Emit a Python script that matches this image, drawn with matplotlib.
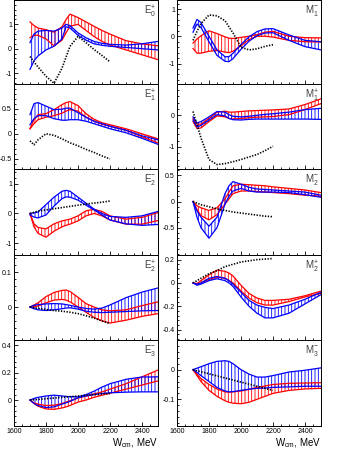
import matplotlib
matplotlib.use('Agg')
import matplotlib.pyplot as plt
from matplotlib.ticker import AutoMinorLocator, MultipleLocator, FuncFormatter

plt.rcParams['font.family'] = ['Liberation Sans', 'DejaVu Sans']
plt.rcParams['mathtext.default'] = 'regular'
plt.rcParams['axes.unicode_minus'] = False
plt.rcParams['hatch.linewidth'] = 0.6

# energy grid of the bands and of the dotted curve (MeV)
W = [1700, 1725, 1750, 1800, 1850, 1900, 1925, 1950, 2000, 2050, 2100, 2150, 2200, 2300, 2400, 2500]
WD = [1700, 1725, 1750, 1800, 1850, 1900, 1950, 2000, 2050, 2100, 2150, 2200]

# E0+
e0p_red_hi = [1.10, 0.95, 0.85, 0.78, 0.68, 0.90, 1.20, 1.42, 1.28, 1.10, 0.92, 0.75, 0.60, 0.33, 0.20, 0.12]
e0p_red_lo = [0.45, 0.55, 0.55, 0.40, 0.12, 0.35, 0.65, 0.92, 1.00, 0.75, 0.50, 0.30, 0.15, -0.05, -0.25, -0.45]
e0p_blue_hi = [0.25, 0.60, 0.72, 0.75, 0.72, 0.85, 1.00, 0.95, 0.65, 0.45, 0.30, 0.22, 0.18, 0.15, 0.20, 0.30]
e0p_blue_lo = [-0.85, -0.50, -0.30, -0.05, 0.10, 0.40, 0.90, 0.85, 0.55, 0.35, 0.20, 0.14, 0.10, 0.05, 0.00, -0.05]
e0p_dots = [-0.32, -0.55, -0.75, -1.13, -1.42, -0.80, 0.10, 0.50, 0.25, -0.03, -0.28, -0.54]

# M1-
m1m_red_hi = [-0.25, -0.10, 0.02, 0.20, 0.10, -0.02, -0.07, -0.08, -0.04, 0.00, 0.06, 0.15, 0.18, 0.00, -0.05, -0.06]
m1m_red_lo = [-0.45, -0.62, -0.62, -0.55, -0.52, -0.58, -0.60, -0.55, -0.35, -0.12, 0.00, 0.00, -0.03, -0.15, -0.20, -0.21]
m1m_blue_hi = [0.30, 0.62, 0.50, 0.00, -0.50, -0.75, -0.75, -0.62, -0.30, -0.02, 0.17, 0.27, 0.28, 0.05, -0.15, -0.20]
m1m_blue_lo = [0.15, 0.45, 0.32, -0.20, -0.70, -0.92, -0.93, -0.82, -0.48, -0.18, 0.02, 0.12, 0.13, -0.15, -0.38, -0.50]
m1m_dots = [-0.15, 0.18, 0.47, 0.78, 0.75, 0.57, 0.12, -0.40, -0.50, -0.46, -0.37, -0.31]

# E1+
e1p_red_hi = [0.10, 0.28, 0.38, 0.40, 0.48, 0.58, 0.62, 0.64, 0.56, 0.40, 0.29, 0.22, 0.18, 0.10, 0.00, -0.10]
e1p_red_lo = [0.10, 0.20, 0.28, 0.33, 0.36, 0.41, 0.45, 0.48, 0.45, 0.33, 0.25, 0.19, 0.15, 0.07, -0.06, -0.18]
e1p_blue_hi = [0.38, 0.60, 0.62, 0.55, 0.48, 0.49, 0.51, 0.51, 0.42, 0.33, 0.25, 0.20, 0.15, 0.07, -0.04, -0.12]
e1p_blue_lo = [0.18, 0.30, 0.36, 0.36, 0.30, 0.27, 0.27, 0.28, 0.28, 0.25, 0.20, 0.15, 0.10, 0.02, -0.09, -0.21]
e1p_dots = [-0.14, -0.22, -0.12, 0.00, -0.03, -0.10, -0.18, -0.24, -0.31, -0.37, -0.44, -0.50]

# M1+
m1p_red_hi = [-0.10, -0.28, -0.28, -0.10, 0.10, 0.13, 0.10, 0.10, 0.12, 0.14, 0.15, 0.16, 0.17, 0.20, 0.34, 0.52]
m1p_red_lo = [-0.20, -0.42, -0.40, -0.20, -0.02, -0.05, -0.10, -0.12, -0.10, -0.08, -0.06, -0.05, -0.04, 0.02, 0.18, 0.37]
m1p_blue_hi = [-0.05, -0.24, -0.20, -0.05, 0.12, 0.10, 0.02, -0.03, -0.05, -0.03, 0.00, 0.03, 0.05, 0.10, 0.18, 0.22]
m1p_blue_lo = [-0.15, -0.37, -0.32, -0.15, 0.02, -0.02, -0.10, -0.14, -0.15, -0.13, -0.12, -0.12, -0.12, -0.12, -0.12, -0.13]
m1p_dots = [0.12, -0.30, -0.72, -1.40, -1.56, -1.53, -1.47, -1.40, -1.32, -1.24, -1.12, -0.98]

# E2-
e2m_red_hi = [0.00, -0.35, -0.47, -0.52, -0.35, -0.25, -0.22, -0.19, -0.08, 0.09, 0.14, 0.07, -0.08, -0.19, -0.13, 0.03]
e2m_red_lo = [0.00, -0.45, -0.67, -0.80, -0.60, -0.45, -0.40, -0.36, -0.25, -0.08, 0.00, -0.08, -0.22, -0.36, -0.36, -0.24]
e2m_blue_hi = [0.00, 0.02, 0.05, 0.30, 0.55, 0.75, 0.78, 0.75, 0.55, 0.35, 0.15, 0.00, -0.10, -0.13, -0.08, 0.07]
e2m_blue_lo = [-0.05, -0.12, -0.15, -0.05, 0.25, 0.50, 0.56, 0.55, 0.45, 0.28, 0.12, -0.05, -0.22, -0.35, -0.40, -0.37]
e2m_dots = [0.00, 0.04, 0.08, 0.12, 0.16, 0.20, 0.24, 0.28, 0.32, 0.35, 0.38, 0.42]

# M2-
m2m_red_hi = [0.00, -0.08, -0.12, -0.17, -0.12, 0.05, 0.18, 0.30, 0.33, 0.32, 0.31, 0.30, 0.28, 0.25, 0.22, 0.17]
m2m_red_lo = [0.00, -0.15, -0.27, -0.35, -0.25, -0.05, 0.05, 0.15, 0.20, 0.20, 0.19, 0.18, 0.17, 0.15, 0.12, 0.10]
m2m_blue_hi = [0.00, -0.18, -0.30, -0.47, -0.30, 0.15, 0.30, 0.38, 0.33, 0.27, 0.24, 0.23, 0.22, 0.20, 0.18, 0.12]
m2m_blue_lo = [0.00, -0.30, -0.50, -0.70, -0.50, -0.05, 0.10, 0.20, 0.25, 0.20, 0.18, 0.18, 0.18, 0.17, 0.13, 0.08]
m2m_dots = [0.00, -0.03, -0.06, -0.10, -0.14, -0.17, -0.20, -0.22, -0.24, -0.26, -0.28, -0.29]

# E2+
e2p_red_hi = [0.0, 0.006, 0.012, 0.030, 0.042, 0.048, 0.049, 0.045, 0.028, 0.010, 0.000, -0.008, -0.011, -0.008, 0.004, 0.015]
e2p_red_lo = [0.0, 0.001, 0.003, 0.012, 0.020, 0.022, 0.020, 0.015, 0.000, -0.015, -0.030, -0.040, -0.046, -0.038, -0.027, -0.019]
e2p_blue_hi = [0.0, 0.005, 0.007, 0.009, 0.010, 0.009, 0.007, 0.005, 0.000, -0.004, -0.006, -0.003, 0.006, 0.027, 0.043, 0.055]
e2p_blue_lo = [0.0, -0.005, -0.008, -0.010, -0.008, -0.005, -0.003, -0.002, -0.006, -0.012, -0.015, -0.016, -0.015, -0.013, -0.011, -0.010]
e2p_dots = [0.0, -0.002, -0.004, -0.007, -0.010, -0.012, -0.015, -0.019, -0.025, -0.032, -0.040, -0.048]

# M2+
m2p_red_hi = [0.0, -0.005, 0.02, 0.07, 0.11, 0.10, 0.085, 0.06, -0.02, -0.09, -0.13, -0.15, -0.15, -0.14, -0.11, -0.07]
m2p_red_lo = [0.0, -0.01, 0.00, 0.03, 0.05, 0.04, 0.02, 0.00, -0.07, -0.13, -0.17, -0.19, -0.19, -0.16, -0.12, -0.09]
m2p_blue_hi = [0.0, -0.01, 0.00, 0.04, 0.055, 0.04, 0.02, -0.01, -0.08, -0.15, -0.19, -0.21, -0.22, -0.19, -0.14, -0.08]
m2p_blue_lo = [0.0, -0.02, -0.01, 0.02, 0.036, 0.02, 0.00, -0.03, -0.12, -0.20, -0.26, -0.30, -0.30, -0.26, -0.18, -0.10]
m2p_dots = [0.0, 0.02, 0.04, 0.08, 0.105, 0.14, 0.16, 0.18, 0.19, 0.20, 0.205, 0.21]

# E3-
e3m_red_hi = [0.0, -0.02, -0.03, -0.04, -0.038, -0.025, -0.015, -0.005, 0.015, 0.03, 0.045, 0.06, 0.08, 0.12, 0.17, 0.22]
e3m_red_lo = [0.0, -0.025, -0.045, -0.065, -0.068, -0.058, -0.05, -0.04, -0.015, 0.0, 0.02, 0.035, 0.05, 0.08, 0.11, 0.14]
e3m_blue_hi = [0.0, 0.012, 0.02, 0.03, 0.036, 0.03, 0.027, 0.025, 0.024, 0.04, 0.065, 0.095, 0.12, 0.152, 0.169, 0.17]
e3m_blue_lo = [0.0, -0.025, -0.04, -0.055, -0.05, -0.03, -0.02, -0.01, 0.017, 0.03, 0.04, 0.048, 0.053, 0.058, 0.06, 0.06]
e3m_dots = [0.0, 0.002, 0.005, 0.01, 0.015, 0.02, 0.025, 0.029, 0.035, 0.04, 0.045, 0.048]

# M3-
m3m_red_hi = [0.0, -0.015, -0.03, -0.05, -0.065, -0.075, -0.076, -0.075, -0.072, -0.066, -0.06, -0.055, -0.05, -0.046, -0.045, -0.044]
m3m_red_lo = [0.0, -0.02, -0.04, -0.07, -0.09, -0.105, -0.11, -0.113, -0.115, -0.11, -0.10, -0.09, -0.08, -0.07, -0.065, -0.063]
m3m_blue_hi = [0.0, 0.005, 0.01, 0.02, 0.028, 0.03, 0.028, 0.02, 0.0, -0.015, -0.025, -0.025, -0.02, -0.008, -0.002, 0.006]
m3m_blue_lo = [0.0, -0.01, -0.02, -0.04, -0.06, -0.072, -0.075, -0.074, -0.07, -0.066, -0.063, -0.062, -0.06, -0.058, -0.056, -0.056]
m3m_dots = [0.0, -0.004, -0.007, -0.014, -0.021, -0.028, -0.035, -0.042, -0.049, -0.056, -0.063, -0.07]


def draw_band(ax, lo, hi, color):
    ax.fill_between(W, lo, hi, facecolor='none', edgecolor=color, hatch='|||||', linewidth=0)
    ax.plot(W, lo, color=color, lw=0.9)
    ax.plot(W, hi, color=color, lw=0.9)


def draw_panel(ax, name, red, blue, dots, ylim, yticks, bottom):
    draw_band(ax, red[0], red[1], 'red')
    draw_band(ax, blue[0], blue[1], 'blue')
    ax.plot(WD, dots, color='black', lw=1.2, linestyle=(0, (0.8, 0.9)))
    ax.set_xlim(1600, 2500)
    ax.set_ylim(*ylim)
    ax.set_yticks(yticks)
    ax.yaxis.set_major_formatter(FuncFormatter(lambda v, p: '%g' % v))
    ax.yaxis.set_minor_locator(AutoMinorLocator(5))
    ax.xaxis.set_major_locator(MultipleLocator(200))
    ax.xaxis.set_minor_locator(MultipleLocator(50))
    ax.tick_params(which='both', direction='in', labelsize=5, width=0.6, pad=1.5)
    ax.tick_params(which='major', length=3)
    ax.tick_params(which='minor', length=1.5)
    for s in ax.spines.values():
        s.set_linewidth(0.7)
    if not bottom:
        ax.set_xticklabels([])
    else:
        ax.text(1.0, -0.2, 'W$_{cm}$, MeV', transform=ax.transAxes,
                ha='right', va='center', fontsize=7)
    ax.text(0.985, 0.96, name, transform=ax.transAxes, ha='right', va='top',
            fontsize=7, color='0.25')


fig = plt.figure(figsize=(3.49, 4.51), dpi=100)
lefts = [14 / 349, 177 / 349]
width = 144 / 349
edges = [0, 84, 169, 255, 340, 426]

left_panels = [
    ('E$_{0}^{+}$', (e0p_red_lo, e0p_red_hi), (e0p_blue_lo, e0p_blue_hi), e0p_dots, (-1.45, 2.0), [-1, 0, 1]),
    ('E$_{1}^{+}$', (e1p_red_lo, e1p_red_hi), (e1p_blue_lo, e1p_blue_hi), e1p_dots, (-0.7, 0.99), [-0.5, 0, 0.5]),
    ('E$_{2}^{-}$', (e2m_red_lo, e2m_red_hi), (e2m_blue_lo, e2m_blue_hi), e2m_dots, (-1.4, 1.5), [-1, 0, 1]),
    ('E$_{2}^{+}$', (e2p_red_lo, e2p_red_hi), (e2p_blue_lo, e2p_blue_hi), e2p_dots, (-0.095, 0.15), [0, 0.1]),
    ('E$_{3}^{-}$', (e3m_red_lo, e3m_red_hi), (e3m_blue_lo, e3m_blue_hi), e3m_dots, (-0.19, 0.44), [0, 0.2, 0.4]),
]
right_panels = [
    ('M$_{1}^{-}$', (m1m_red_lo, m1m_red_hi), (m1m_blue_lo, m1m_blue_hi), m1m_dots, (-1.75, 1.33), [-1, 0, 1]),
    ('M$_{1}^{+}$', (m1p_red_lo, m1p_red_hi), (m1p_blue_lo, m1p_blue_hi), m1p_dots, (-1.7, 0.99), [-1, 0]),
    ('M$_{2}^{-}$', (m2m_red_lo, m2m_red_hi), (m2m_blue_lo, m2m_blue_hi), m2m_dots, (-1.02, 0.62), [-0.5, 0, 0.5]),
    ('M$_{2}^{+}$', (m2p_red_lo, m2p_red_hi), (m2p_blue_lo, m2p_blue_hi), m2p_dots, (-0.49, 0.24), [-0.4, -0.2, 0, 0.2]),
    ('M$_{3}^{-}$', (m3m_red_lo, m3m_red_hi), (m3m_blue_lo, m3m_blue_hi), m3m_dots, (-0.19, 0.1), [-0.1, 0]),
]

for col, panels in enumerate([left_panels, right_panels]):
    for i, p in enumerate(panels):
        top = 1 - edges[i] / 451
        bot = 1 - edges[i + 1] / 451
        ax = fig.add_axes([lefts[col], bot, width, top - bot])
        draw_panel(ax, *p, bottom=(i == 4))

fig.savefig('out.png', dpi=100)
